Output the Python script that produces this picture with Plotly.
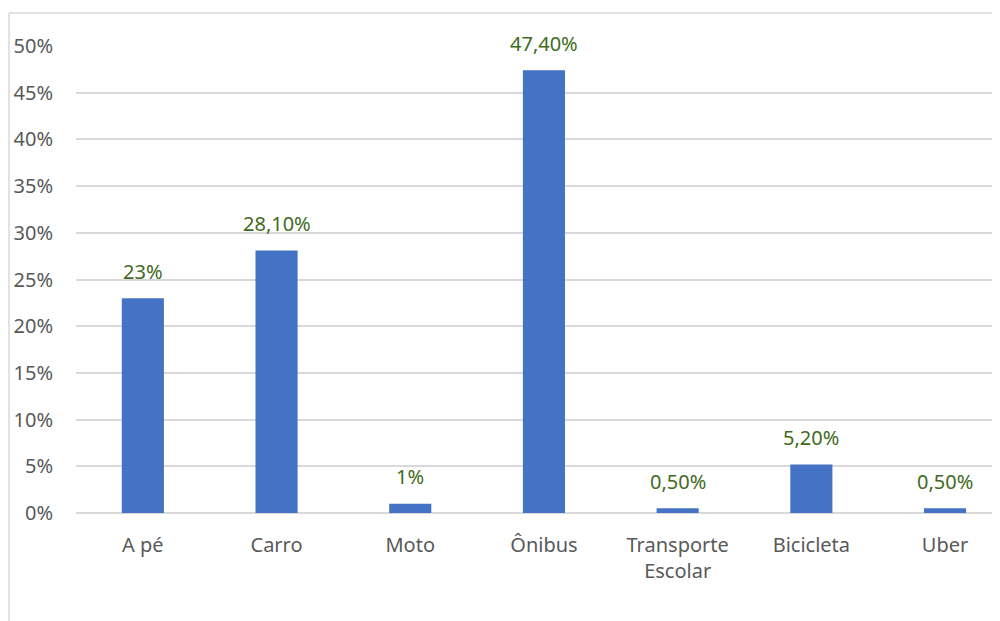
import plotly.graph_objects as go

# data
categories = ["A pé", "Carro", "Moto", "Ônibus", "Transporte<br>Escolar", "Bicicleta", "Uber"]
shares = [23, 28.1, 1, 47.4, 0.5, 5.2, 0.5]
labels = ["23%", "28,10%", "1%", "47,40%", "0,50%", "5,20%", "0,50%"]
y_ticks = [0, 5, 10, 15, 20, 25, 30, 35, 40, 45, 50]
y_ticktext = [f"{v}%" for v in y_ticks]

# the page puts the figure 8px in from the top-left corner
W, H = 1000, 621
ML, MR, MT, MB = 68, 0, 38, 116
plot_w = W - ML - MR
plot_h = H - MT - MB
step = 133.7  # px per category in the reference

fig = go.Figure()
fig.add_trace(go.Bar(
    x=categories,
    y=shares,
    marker=dict(color="#4472c4", line=dict(width=0)),
    width=0.315,
    hoverinfo="skip",
))

# value labels above bars
for c, v, t in zip(categories, shares, labels):
    fig.add_annotation(x=c, y=v, text=t, showarrow=False, yshift=27,
                       font=dict(color="#3f6b22", size=20))

# light frame around the chart (left and top edges visible)
x0 = (1 - ML) / plot_w
y1 = (H - MB - 5) / plot_h
fig.add_shape(type="line", xref="paper", yref="paper", x0=x0, x1=x0, y0=-1, y1=y1,
              line=dict(color="#d9d9d9", width=1.5))
fig.add_shape(type="line", xref="paper", yref="paper", x0=x0, x1=1.2, y0=y1, y1=y1,
              line=dict(color="#d9d9d9", width=1.5))

fig.update_layout(
    width=W, height=H,
    margin=dict(l=ML, r=MR, t=MT, b=MB),
    paper_bgcolor="white", plot_bgcolor="white",
    font=dict(family="Noto Sans", color="#595959", size=20),
    showlegend=False,
)
fig.update_xaxes(
    range=[-0.5, -0.5 + plot_w / step],
    showgrid=False, showline=False, zeroline=False, ticks="",
    ticklabelstandoff=18,
    tickfont=dict(size=20),
)
fig.update_yaxes(
    range=[0, 50],
    tickvals=y_ticks, ticktext=y_ticktext,
    showgrid=True, gridcolor="#d9d9d9", gridwidth=1.5,
    zeroline=True, zerolinecolor="#d9d9d9", zerolinewidth=1.5,
    showline=False, ticks="",
    ticklabelstandoff=22,
    tickfont=dict(size=20),
)

fig.write_html("out.html")
